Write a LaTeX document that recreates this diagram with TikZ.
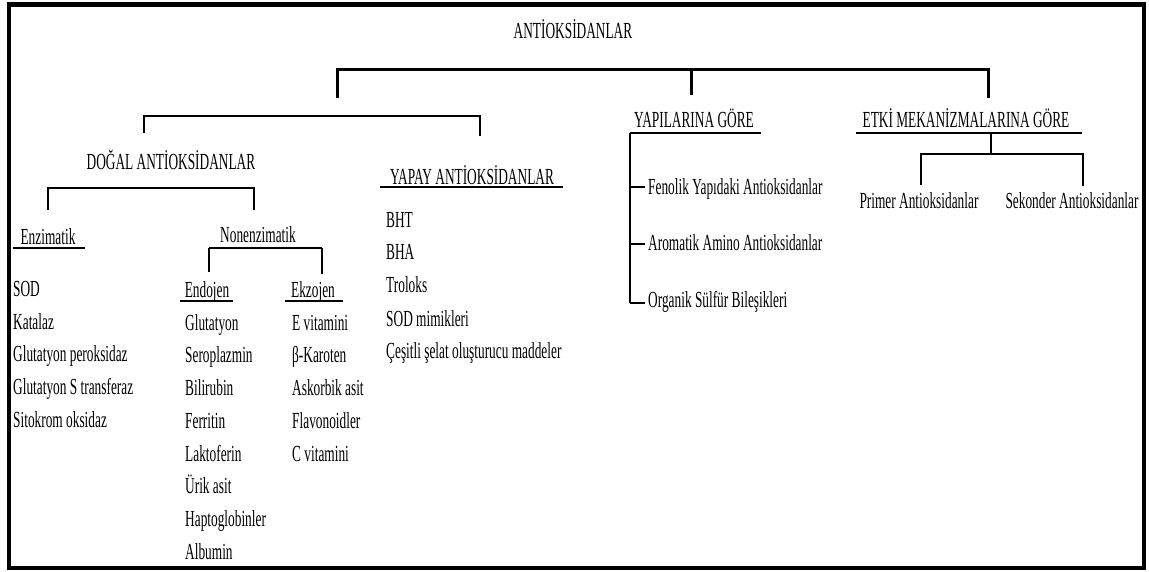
\documentclass[tikz,border=0pt]{standalone}
\usepackage{fontspec}
\setmainfont{Liberation Serif}[FakeStretch=0.58]
\begin{document}
\begin{tikzpicture}[x=1pt,y=-1pt,
  txt/.style={font=\fontsize{23}{27}\selectfont, inner sep=0pt, anchor=base west},
  ctxt/.style={txt, anchor=base},
  thickline/.style={line width=3pt},
  thinline/.style={line width=1.4pt},
  uline/.style={line width=1.8pt}]
\useasboundingbox (0,0) rectangle (1149,572);
\draw[line width=4.5pt] (9,4.5) rectangle (1144,568);

% headings
\node[ctxt] (title) at (573,39) {ANTİOKSİDANLAR};
\node[ctxt] (dogal) at (171,170) {DOĞAL ANTİOKSİDANLAR};
\node[ctxt] (yapay) at (472,185) {YAPAY ANTİOKSİDANLAR};
\node[ctxt] (yapi) at (694,128) {YAPILARINA GÖRE};
\node[ctxt] (etki) at (966,128) {ETKİ MEKANİZMALARINA GÖRE};
\node[ctxt] (enz) at (48,244) {Enzimatik};
\node[ctxt] (nonenz) at (258,243) {Nonenzimatik};
\node[ctxt] (endo) at (207,298) {Endojen};
\node[ctxt] (ekzo) at (313,298) {Ekzojen};

% underlines
\coordinate (yapayL) at (380,187); \coordinate (yapayR) at (563,187);
\coordinate (yapiL) at (630,133); \coordinate (yapiR) at (761,133);
\coordinate (etkiL) at (856,133); \coordinate (etkiR) at (1082,133);
\coordinate (enzL) at (13,248); \coordinate (enzR) at (85,248);
\coordinate (nonL) at (209,248); \coordinate (nonR) at (322,248);
\coordinate (endoL) at (180,301); \coordinate (endoR) at (233,301);
\coordinate (ekzoL) at (285,301); \coordinate (ekzoR) at (343,301);
\draw[uline] (yapayL) -- (yapayR);
\draw[uline] (yapiL) -- (yapiR);
\draw[uline] (etkiL) -- (etkiR);
\draw[uline] (enzL) -- (enzR);
\draw[uline] (nonL) -- (nonR);
\draw[uline] (endoL) -- (endoR);
\draw[uline] (ekzoL) -- (ekzoR);

% main bracket
\coordinate (m1) at (337,70); \coordinate (m2) at (691,70); \coordinate (m3) at (988,70);
\coordinate (m1b) at (337,98); \coordinate (m2b) at (691,95); \coordinate (m3b) at (988,98);
\draw[thickline] (m1b) -- (m1) -- (m3) -- (m3b);
\draw[thickline] (m2) -- (m2b);

% second bracket
\coordinate (s1) at (144,116); \coordinate (s2) at (480,116);
\coordinate (s1b) at (144,133); \coordinate (s2b) at (480,136);
\draw[thinline] (s1b) -- (s1) -- (s2) -- (s2b);

% dogal bracket
\coordinate (d1) at (48,188); \coordinate (d2) at (254,188);
\coordinate (d1b) at (48,210); \coordinate (d2b) at (254,210);
\draw[thinline] (d1b) -- (d1) -- (d2) -- (d2b);

% nonenzimatik legs
\coordinate (n1b) at (209,272); \coordinate (n2b) at (322,274);
\draw[thinline] (nonL) -- (n1b);
\draw[thinline] (nonR) -- (n2b);

% yapilarina tree
\coordinate (y0) at (630,303);
\coordinate (t1) at (630,187); \coordinate (t1e) at (645,187);
\coordinate (t2) at (630,244); \coordinate (t2e) at (645,244);
\coordinate (t3e) at (645,303);
\draw[thinline] (yapiL) -- (y0);
\draw[thinline] (t1) -- (t1e);
\draw[thinline] (t2) -- (t2e);
\draw[thinline] (y0) -- (t3e);
\node[txt] (fen) at (648,195) {Fenolik Yapıdaki Antioksidanlar};
\node[txt] (aro) at (648,251) {Aromatik Amino Antioksidanlar};
\node[txt] (org) at (648,307) {Organik Sülfür Bileşikleri};

% etki tree
\coordinate (e0) at (991,133); \coordinate (e1) at (991,154);
\coordinate (p1) at (921,154); \coordinate (p2) at (1083,154);
\coordinate (p1b) at (921,185); \coordinate (p2b) at (1083,186);
\draw[thinline] (e0) -- (e1);
\draw[thinline] (p1b) -- (p1) -- (p2) -- (p2b);
\node[ctxt] (prim) at (919,209) {Primer Antioksidanlar};
\node[ctxt] (sek) at (1072,209) {Sekonder Antioksidanlar};

% enzimatik list
\node[txt] (a1) at (13,296) {SOD};
\node[txt] (a2) at (13,329) {Katalaz};
\node[txt] (a3) at (13,361) {Glutatyon peroksidaz};
\node[txt] (a4) at (13,394) {Glutatyon S transferaz};
\node[txt] (a5) at (13,427) {Sitokrom oksidaz};

% endojen list
\node[txt] (b1) at (185,330) {Glutatyon};
\node[txt] (b2) at (185,362) {Seroplazmin};
\node[txt] (b3) at (185,395) {Bilirubin};
\node[txt] (b4) at (185,428) {Ferritin};
\node[txt] (b5) at (185,461) {Laktoferin};
\node[txt] (b6) at (185,493) {Ürik asit};
\node[txt] (b7) at (185,526) {Haptoglobinler};
\node[txt] (b8) at (185,559) {Albumin};

% ekzojen list
\node[txt] (c1) at (292,330) {E vitamini};
\node[txt] (c2) at (292,362) {β-Karoten};
\node[txt] (c3) at (292,395) {Askorbik asit};
\node[txt] (c4) at (292,428) {Flavonoidler};
\node[txt] (c5) at (292,461) {C vitamini};

% yapay list
\node[txt] (d1t) at (386,228) {BHT};
\node[txt] (d2t) at (386,260) {BHA};
\node[txt] (d3t) at (386,293) {Troloks};
\node[txt] (d4t) at (386,326) {SOD mimikleri};
\node[txt] (d5t) at (386,358) {Çeşitli şelat oluşturucu maddeler};
\end{tikzpicture}
\end{document}
